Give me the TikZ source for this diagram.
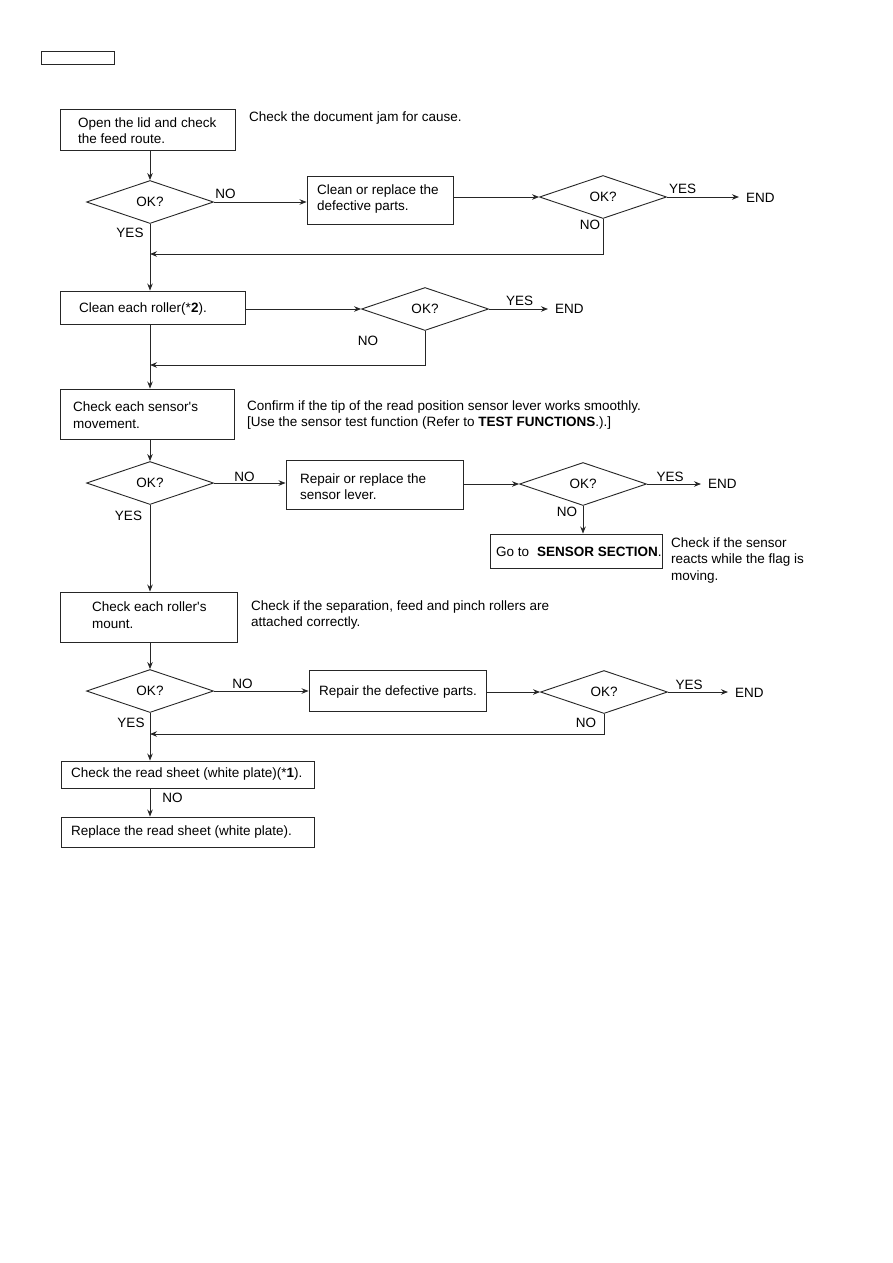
\documentclass[tikz,border=0pt]{standalone}
\usepackage{fontspec}
\setmainfont{Liberation Sans}
\usetikzlibrary{shapes.geometric,arrows.meta,calc}
\begin{document}
\begin{tikzpicture}[x=1pt,y=-1pt,
  font=\fontsize{13.5}{16.5}\selectfont,
  box/.style={draw=black!85, line width=0.9pt, rectangle, inner sep=0},
  dia/.style={draw=black!85, line width=0.9pt, diamond, inner sep=0, minimum width=127pt, minimum height=43pt},
  txt/.style={inner sep=0, anchor=west, align=left},
  lab/.style={inner sep=0},
  arr/.style={draw=black!85, line width=0.9pt, -{Stealth[length=7pt,width=5.5pt]}},
  endarr/.style={arr, shorten >=7pt}]
\useasboundingbox (0,0) rectangle (893,1263);
% header box
\node[box, minimum width=73pt, minimum height=13pt] (hdr) at (77.5,57.5) {};
% row 1
\node[box, minimum width=175pt, minimum height=41pt] (b1) at (147.5,129.5) {};
\node[txt] (t1) at (78,130.5) {Open the lid and check\\the feed route.};
\node[txt] (a1) at (249,118) {Check the document jam for cause.};
\node[dia] (d1) at (150,202) {OK?};
\node[box, minimum width=146pt, minimum height=48pt] (b2) at (380,200) {};
\node[txt] (t2) at (317,199) {Clean or replace the\\defective parts.};
\node[dia] (d2) at (603,197) {OK?};
\node[lab, anchor=west] (e1) at (746,198) {END};
\coordinate (j1) at (150,254);
\node[lab] (n1) at (225.5,194) {NO};
\node[lab] (y1) at (130,233) {YES};
\node[lab] (y2) at (682.5,189) {YES};
\node[lab] (n2) at (590,225) {NO};
\draw[arr] (d1.north |- b1.south) -- (d1.north);
\draw[arr] (d1.east) -- (d1.east -| b2.west);
\draw[arr] (d2.west -| b2.east) -- (d2.west);
\draw[endarr] (d2.east) -- (d2.east -| e1.west);
\draw[arr] (d2.south) |- (j1);
% row 3
\node[box, minimum width=185pt, minimum height=33pt] (b3) at (152.5,307.5) {};
\node[txt] (t3) at (79,309) {Clean each roller(*\textbf{2}).};
\node[dia] (d3) at (425,309) {OK?};
\node[lab, anchor=west] (e2) at (555,309) {END};
\coordinate (j2) at (150,365);
\node[lab] (y3) at (519.5,301) {YES};
\node[lab] (n3) at (368,341) {NO};
\draw[arr] (d1.south) -- (d1.south |- b3.north);
\draw[arr] (b3.east |- d3.west) -- (d3.west);
\draw[endarr] (d3.east) -- (d3.east -| e2.west);
\draw[arr] (d3.south) |- (j2);
% row 4
\node[box, minimum width=174pt, minimum height=50pt] (b4) at (147,414) {};
\node[txt] (t4) at (73,415) {Check each sensor\textquotesingle s\\movement.};
\node[txt] (a2) at (247,415) {Confirm if the tip of the read position sensor lever works smoothly.\\{[}Use the sensor test function (Refer to \textbf{TEST FUNCTIONS}.).{]}};
\node[dia] (d4) at (150,483) {OK?};
\node[box, minimum width=177pt, minimum height=49pt] (b5) at (374.5,484.5) {};
\node[txt] (t5) at (300,486.5) {Repair or replace the\\sensor lever.};
\node[dia] (d5) at (583,484) {OK?};
\node[lab, anchor=west] (e3) at (708,484) {END};
\node[box, minimum width=172pt, minimum height=34pt] (b6) at (576,551) {};
\node[txt] (t6) at (496,552) {Go to\hspace{8pt}\textbf{SENSOR SECTION}.};
\node[txt] (a3) at (671,560.5) {Check if the sensor\\reacts while the flag is\\moving.};
\node[lab] (n4) at (244.5,477) {NO};
\node[lab] (y4) at (128.5,516) {YES};
\node[lab] (y5) at (670,477) {YES};
\node[lab] (n5) at (567,512) {NO};
\draw[arr] (d4.north |- b3.south) -- (d4.north |- b4.north);
\draw[arr] (d4.north |- b4.south) -- (d4.north);
\draw[arr] (d4.east) -- (d4.east -| b5.west);
\draw[arr] (d5.west -| b5.east) -- (d5.west);
\draw[endarr] (d5.east) -- (d5.east -| e3.west);
\draw[arr] (d5.south) -- (d5.south |- b6.north);
% row 7
\node[box, minimum width=177pt, minimum height=50pt] (b7) at (148.5,617) {};
\node[txt] (t7) at (92,615) {Check each roller\textquotesingle s\\mount.};
\node[txt] (a4) at (251,615) {Check if the separation, feed and pinch rollers are\\attached correctly.};
\node[dia] (d7) at (150,691) {OK?};
\node[box, minimum width=177pt, minimum height=41pt] (b8) at (397.5,691) {};
\node[txt] (t8) at (319,692) {Repair the defective parts.};
\node[dia] (d8) at (604,692) {OK?};
\node[lab, anchor=west] (e4) at (735,693) {END};
\coordinate (j3) at (150,734);
\node[lab] (n7) at (242.5,684) {NO};
\node[lab] (y7) at (131,723) {YES};
\node[lab] (y8) at (689,685) {YES};
\node[lab] (n8) at (586,723) {NO};
\draw[arr] (d4.south) -- (d4.south |- b7.north);
\draw[arr] (d7.north |- b7.south) -- (d7.north);
\draw[arr] (d7.east) -- (d7.east -| b8.west);
\draw[arr] (d8.west -| b8.east) -- (d8.west);
\draw[endarr] (d8.east) -- (d8.east -| e4.west);
\draw[arr] (d8.south) |- (j3);
% bottom
\node[box, minimum width=253pt, minimum height=27pt] (b9) at (187.5,774.5) {};
\node[txt] (t9) at (71,774) {Check the read sheet (white plate)(*\textbf{1}).};
\node[box, minimum width=253pt, minimum height=30pt] (b10) at (187.5,832) {};
\node[txt] (t10) at (71,832) {Replace the read sheet (white plate).};
\node[lab] (n9) at (172.5,798) {NO};
\draw[arr] (d7.south) -- (d7.south |- b9.north);
\draw[arr] (d7.south |- b9.south) -- (d7.south |- b10.north);
\end{tikzpicture}
\end{document}
